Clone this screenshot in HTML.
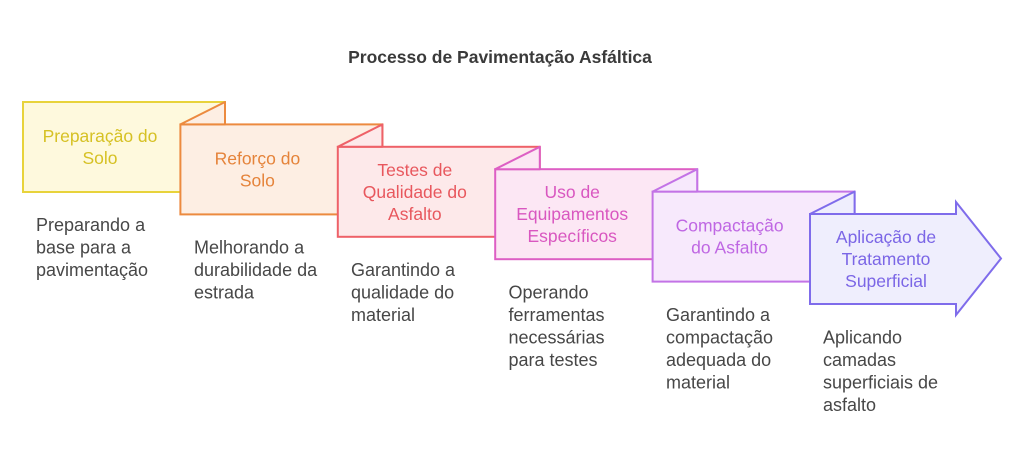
<!DOCTYPE html>
<html>
<head>
<meta charset="utf-8">
<style>
  html,body{margin:0;padding:0;background:#ffffff;}
  body{width:1024px;height:462px;overflow:hidden;}
  svg{display:block;font-family:"Liberation Sans", Arial, sans-serif;}
  .lbl{font-size:17.5px;text-anchor:middle;}
  .desc{font-size:18px;fill:#474747;}
</style>
</head>
<body>
<svg width="1024" height="462" viewBox="0 0 1024 462" xmlns="http://www.w3.org/2000/svg">
  <rect width="1024" height="462" fill="#ffffff"/>
  <text x="500" y="63" text-anchor="middle" font-size="17.5" font-weight="bold" fill="#3a3a3a">Processo de Pavimentação Asfáltica</text>

  <!-- Box 1 -->
  <rect x="23" y="102" width="202" height="90" fill="#fef9dd" stroke="#e8d33b" stroke-width="2"/>
  <!-- Box 2 -->
  <rect x="180.4" y="124.4" width="202" height="90" fill="#fdeee3" stroke="#ec8a3f" stroke-width="2"/>
  <polygon points="180.4,124.4 225,102 225,124.4" fill="#fdeee3" stroke="#ec8a3f" stroke-width="2" stroke-linejoin="round"/>
  <!-- Box 3 -->
  <rect x="337.8" y="146.8" width="202" height="90" fill="#fde9ea" stroke="#ee6168" stroke-width="2"/>
  <polygon points="337.8,146.8 382.4,124.4 382.4,146.8" fill="#fde9ea" stroke="#ee6168" stroke-width="2" stroke-linejoin="round"/>
  <!-- Box 4 -->
  <rect x="495.2" y="169.2" width="202" height="90" fill="#fce7f4" stroke="#dd5fc4" stroke-width="2"/>
  <polygon points="495.2,169.2 539.8,146.8 539.8,169.2" fill="#fce7f4" stroke="#dd5fc4" stroke-width="2" stroke-linejoin="round"/>
  <!-- Box 5 -->
  <rect x="652.6" y="191.6" width="202" height="90" fill="#f7e9fc" stroke="#c373e6" stroke-width="2"/>
  <polygon points="652.6,191.6 697.2,169.2 697.2,191.6" fill="#f7e9fc" stroke="#c373e6" stroke-width="2" stroke-linejoin="round"/>
  <!-- Arrow 6 -->
  <polygon points="810,214 956,214 956,202 1001,258.5 956,315 956,304 810,304" fill="#efeefd" stroke="#7f6ceb" stroke-width="2" stroke-linejoin="miter"/>
  <polygon points="810,214 854.6,191.6 854.6,214" fill="#efeefd" stroke="#7f6ceb" stroke-width="2" stroke-linejoin="round"/>

  <!-- Labels -->
  <g class="lbl" fill="#d6c124">
    <text x="100" y="142">Preparação do</text>
    <text x="100" y="164">Solo</text>
  </g>
  <g class="lbl" fill="#e5833a">
    <text x="257.4" y="164.4">Reforço do</text>
    <text x="257.4" y="186.4">Solo</text>
  </g>
  <g class="lbl" fill="#e8575d">
    <text x="414.8" y="175.8">Testes de</text>
    <text x="414.8" y="197.8">Qualidade do</text>
    <text x="414.8" y="219.8">Asfalto</text>
  </g>
  <g class="lbl" fill="#d957c0">
    <text x="572.2" y="198.2">Uso de</text>
    <text x="572.2" y="220.2">Equipamentos</text>
    <text x="572.2" y="242.2">Específicos</text>
  </g>
  <g class="lbl" fill="#bf67e3">
    <text x="729.6" y="231.6">Compactação</text>
    <text x="729.6" y="253.6">do Asfalto</text>
  </g>
  <g class="lbl" fill="#7b66e6">
    <text x="886" y="243">Aplicação de</text>
    <text x="886" y="265">Tratamento</text>
    <text x="886" y="287">Superficial</text>
  </g>

  <!-- Descriptions -->
  <g class="desc">
    <text x="36" y="231">Preparando a</text>
    <text x="36" y="253.5">base para a</text>
    <text x="36" y="276">pavimentação</text>

    <text x="194" y="253.5">Melhorando a</text>
    <text x="194" y="276">durabilidade da</text>
    <text x="194" y="298.5">estrada</text>

    <text x="351" y="276">Garantindo a</text>
    <text x="351" y="298.5">qualidade do</text>
    <text x="351" y="321">material</text>

    <text x="508.5" y="298.5">Operando</text>
    <text x="508.5" y="321">ferramentas</text>
    <text x="508.5" y="343.5">necessárias</text>
    <text x="508.5" y="366">para testes</text>

    <text x="666" y="321">Garantindo a</text>
    <text x="666" y="343.5">compactação</text>
    <text x="666" y="366">adequada do</text>
    <text x="666" y="388.5">material</text>

    <text x="823" y="343.5">Aplicando</text>
    <text x="823" y="366">camadas</text>
    <text x="823" y="388.5">superficiais de</text>
    <text x="823" y="411">asfalto</text>
  </g>
</svg>
</body>
</html>
